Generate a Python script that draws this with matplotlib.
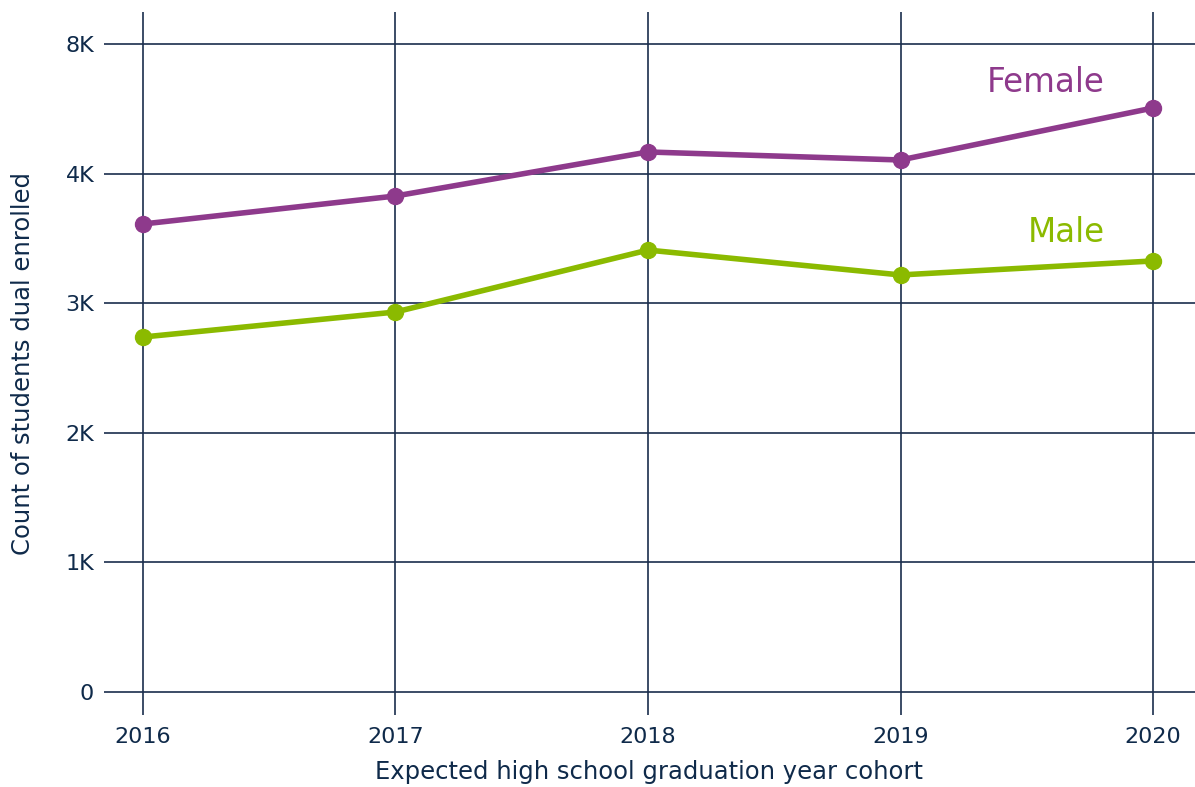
import matplotlib
matplotlib.use('Agg')
import matplotlib.pyplot as plt
import numpy as np

plt.rcParams['font.family'] = ['DejaVu Sans']

# Data
years = [2016, 2017, 2018, 2019, 2020]
female = [3611, 3827, 4667, 4420, 6025]
male = [2739, 2932, 3410, 3218, 3326]

ytick_values = [0, 1000, 2000, 3000, 4000, 8000]
ytick_labels = ['0', '1K', '2K', '3K', '4K', '8K']

text_color = '#0f2a4a'
grid_color = '#1a2e4d'
female_color = '#8e3a8c'
male_color = '#8bba00'

# Axis is piecewise: 0-4K linear, then 4K-8K squeezed into one step
def forward(v):
    v = np.asarray(v, dtype=float)
    return np.where(v <= 4000, v / 1000.0, 4.0 + (v - 4000) / 4000.0)

def inverse(u):
    u = np.asarray(u, dtype=float)
    return np.where(u <= 4.0, u * 1000.0, 4000 + (u - 4.0) * 4000.0)

fig = plt.figure(figsize=(11.95, 7.87), dpi=100)
ax = fig.add_axes([0.087, 0.0915, 0.913, 0.8933])
ax.set_yscale('function', functions=(forward, inverse))

ax.plot(years, female, color=female_color, lw=4, marker='o', ms=11.5, zorder=3,
        solid_capstyle='round')
ax.plot(years, male, color=male_color, lw=4, marker='o', ms=11.5, zorder=3,
        solid_capstyle='round')

ax.set_xlim(2015.846, 2020.166)
ax.set_ylim(-177, 8988)

ax.set_xticks(years)
ax.set_xticklabels([str(y) for y in years])
ax.set_yticks(ytick_values)
ax.set_yticklabels(ytick_labels)
ax.tick_params(axis='both', length=0, labelsize=16, labelcolor=text_color)
ax.tick_params(axis='y', pad=7)
ax.tick_params(axis='x', pad=9)

ax.grid(True, color=grid_color, lw=1.2, zorder=1)
ax.set_axisbelow(True)
for s in ax.spines.values():
    s.set_visible(False)

ax.set_xlabel('Expected high school graduation year cohort', fontsize=17.5,
              color=text_color, labelpad=9)
ax.set_ylabel('Count of students dual enrolled', fontsize=17.5,
              color=text_color, labelpad=22)

ax.text(2019.81, 6800, 'Female', color=female_color, fontsize=23.5,
        ha='right', va='center')
ax.text(2019.81, 3549, 'Male', color=male_color, fontsize=23.5,
        ha='right', va='center')

fig.savefig('out.png', dpi=100, facecolor='white')
